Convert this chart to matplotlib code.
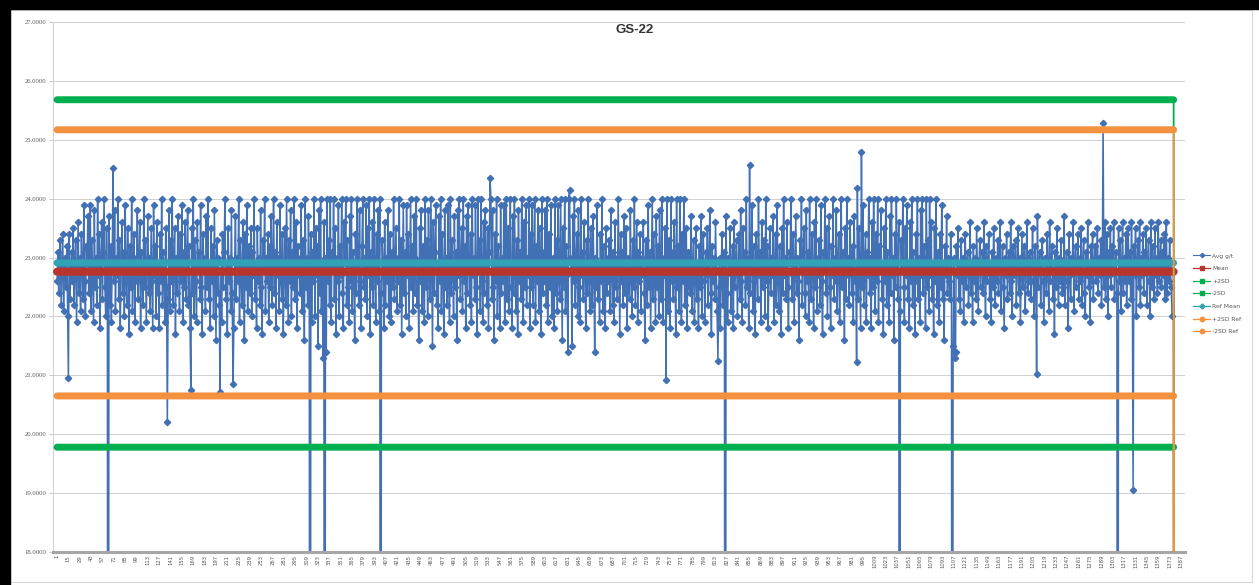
import matplotlib
matplotlib.use("Agg")
import matplotlib.pyplot as plt
from matplotlib.lines import Line2D
from matplotlib.patches import Rectangle
import numpy as np

# Avg g/t per sample (rows of 20 samples)
avg_gt = [
    22.6, 23.1, 22.4, 22.9, 23.3, 22.2, 22.8, 23.4, 22.1, 22.7, 23.0, 22.5, 23.2, 22.0, 22.9, 23.4, 22.3, 22.8, 23.1, 22.6,
    23.5, 22.2, 22.9, 23.3, 21.9, 22.7, 23.6, 22.4, 23.0, 22.1, 23.4, 22.8, 22.3, 23.9, 22.6, 22.0, 23.2, 22.9, 23.7, 22.4,
    22.8, 23.9, 22.1, 23.3, 22.6, 21.9, 23.8, 22.5, 23.0, 22.2, 24.0, 22.7, 23.4, 21.8, 22.9, 23.6, 22.3, 23.1, 24.0, 22.5,
    22.0, 23.5, 22.8, 22.4, 23.7, 22.2, 23.2, 21.9, 22.9, 23.4, 22.6, 23.8, 22.1, 23.0, 22.7, 24.0, 22.3, 23.3, 21.8, 22.9,
    23.6, 22.4, 23.1, 22.0, 23.9, 22.6, 22.2, 23.5, 22.8, 21.7, 23.2, 22.5, 24.0, 22.1, 22.9, 23.4, 21.9, 23.0, 22.6, 23.8,
    22.3, 22.9, 23.6, 21.8, 23.1, 22.7, 22.2, 24.0, 22.5, 23.3, 21.9, 22.8, 23.7, 22.4, 23.0, 22.1, 23.5, 22.6, 21.8, 23.9,
    22.7, 23.2, 22.0, 23.6, 22.4, 22.9, 21.8, 23.4, 22.6, 24.0, 22.2, 23.1, 22.8, 21.9, 23.5, 22.5, 23.0, 22.3, 23.8, 22.1,
    23.3, 22.6, 24.0, 22.2, 22.9, 23.5, 21.7, 23.0, 22.4, 23.7, 22.8, 22.1, 23.4, 22.6, 23.9, 21.9, 23.1, 22.5, 23.6, 22.3,
    22.9, 23.8, 22.2, 23.2, 21.8, 22.7, 23.5, 22.4, 24.0, 22.0, 23.3, 22.6, 21.9, 23.6, 22.8, 23.1, 22.3, 23.9, 22.5, 21.7,
    23.4, 22.8, 23.0, 22.1, 23.7, 22.5, 24.0, 22.3, 22.9, 21.8, 23.5, 22.6, 23.2, 22.0, 23.8, 22.7, 21.6, 23.3, 22.4, 23.0,
    22.2, 23.6, 22.8, 21.9, 23.4, 22.5, 23.1, 24.0, 22.3, 22.9, 21.7, 23.5, 22.6, 23.0, 22.1, 23.8, 22.4, 23.2, 21.8, 22.9,
    23.7, 22.3, 23.0, 22.6, 24.0, 21.9, 23.3, 22.7, 22.2, 23.6, 22.9, 21.6, 23.4, 22.5, 23.9, 22.1, 22.8, 23.2, 22.4, 23.5,
    22.0, 23.1, 22.7, 24.0, 22.3, 22.9, 21.8, 23.5, 22.6, 23.0, 22.2, 23.8, 22.5, 21.7, 23.3, 22.8, 24.0, 22.1, 23.0, 22.6,
    23.4, 21.9, 23.2, 22.5, 23.7, 22.2, 22.9, 24.0, 22.4, 23.1, 21.8, 23.6, 22.7, 23.0, 22.1, 23.9, 22.6, 22.3, 23.4, 21.7,
    22.8, 23.5, 22.2, 24.0, 22.9, 21.9, 23.3, 22.6, 23.8, 22.0, 23.1, 22.5, 24.0, 22.3, 22.8, 23.6, 21.8, 23.2, 22.7, 23.0,
    22.4, 23.9, 22.1, 23.3, 22.8, 21.6, 24.0, 22.5, 23.0, 22.2, 23.7, 22.9, 22.3, 23.4, 21.9, 23.1, 22.6, 24.0, 22.0, 23.5,
    22.7, 23.2, 21.5, 23.8, 22.4, 24.0, 22.1, 22.9, 21.3, 23.6, 22.5, 23.0, 21.4, 24.0, 22.6, 23.3, 22.2, 24.0, 21.9, 23.1,
    22.8, 24.0, 22.3, 23.5, 21.7, 23.0, 22.6, 23.9, 22.0, 23.2, 22.7, 24.0, 22.4, 21.8, 23.6, 22.9, 24.0, 22.2, 23.3, 22.5,
    21.9, 23.7, 22.6, 24.0, 22.1, 23.1, 22.8, 21.6, 23.4, 22.4, 24.0, 22.9, 22.2, 23.8, 22.6, 21.8, 23.2, 24.0, 22.5, 23.0,
    22.3, 23.9, 22.0, 23.5, 22.7, 24.0, 21.7, 23.1, 22.5, 23.6, 22.2, 24.0, 22.8, 21.9, 23.4, 22.6, 23.8, 22.1, 24.0, 22.7,
    22.4, 23.3, 22.9, 21.8, 23.6, 22.2, 23.0, 22.6, 23.8, 22.0, 22.8, 23.4, 21.9, 23.1, 22.5, 24.0, 22.3, 22.9, 23.5, 22.1,
    23.0, 22.6, 24.0, 22.2, 23.3, 21.7, 22.8, 23.9, 22.4, 23.1, 22.0, 23.9, 22.7, 23.4, 21.8, 22.9, 24.0, 22.5, 23.2, 22.1,
    23.7, 22.4, 23.0, 24.0, 22.2, 22.8, 21.6, 23.5, 22.6, 23.8, 22.1, 23.2, 22.9, 21.9, 24.0, 22.5, 23.3, 22.0, 23.8, 22.7,
    22.3, 24.0, 22.8, 21.5, 23.6, 22.4, 23.1, 23.9, 22.2, 22.9, 21.8, 23.7, 22.6, 24.0, 22.1, 23.4, 22.7, 21.7, 23.8, 22.5,
    23.0, 22.2, 23.9, 22.6, 21.9, 24.0, 22.4, 23.3, 22.8, 22.0, 23.7, 22.5, 23.1, 21.6, 23.8, 22.7, 24.0, 22.3, 22.9, 23.5,
    22.1, 24.0, 22.6, 23.2, 21.8, 23.7, 22.4, 23.9, 22.9, 22.2, 23.4, 21.9, 24.0, 22.7, 23.0, 22.3, 23.9, 22.5, 21.7, 24.0,
    22.8, 23.3, 22.1, 24.0, 22.6, 21.9, 23.6, 22.4, 23.8, 22.9, 22.2, 23.5, 21.8, 23.1, 22.7, 24.0, 22.3, 23.8, 22.5, 21.6,
    23.4, 22.6, 24.0, 22.0, 23.2, 22.8, 21.8, 23.9, 22.4, 23.0, 22.6, 23.9, 21.9, 22.7, 24.0, 22.3, 23.5, 22.1, 22.9, 24.0,
    22.5, 21.8, 23.7, 22.4, 24.0, 22.9, 22.1, 23.3, 21.7, 23.8, 22.6, 23.1, 22.3, 24.0, 22.8, 21.9, 23.6, 22.5, 23.9, 22.2,
    23.0, 22.7, 24.0, 21.8, 23.4, 22.5, 23.9, 22.2, 22.8, 24.0, 21.9, 23.2, 22.6, 23.8, 22.1, 23.5, 22.9, 21.7, 24.0, 22.4,
    23.1, 22.6, 23.8, 22.2, 24.0, 21.9, 22.8, 23.4, 22.5, 23.9, 22.0, 23.0, 22.7, 21.8, 24.0, 22.4, 23.3, 22.1, 23.9, 22.6,
    22.3, 24.0, 22.8, 21.6, 23.5, 22.5, 24.0, 22.1, 23.2, 22.7, 21.4, 24.0, 22.4, 23.0, 22.8, 21.5, 23.7, 22.6, 24.0, 22.2,
    22.9, 23.4, 22.0, 23.8, 22.5, 21.9, 24.0, 22.7, 23.1, 22.3, 23.6, 22.8, 21.8, 23.3, 22.4, 24.0, 22.6, 22.1, 23.5, 22.9,
    22.2, 23.7, 22.8, 21.4, 23.0, 22.5, 23.9, 22.3, 22.9, 21.9, 23.4, 22.6, 24.0, 22.1, 23.2, 22.7, 21.8, 23.5, 22.4, 23.0,
    22.6, 23.3, 22.1, 23.8, 22.7, 22.2, 23.1, 21.9, 23.6, 22.5, 23.0, 22.3, 24.0, 22.8, 21.7, 23.4, 22.6, 23.1, 22.2, 23.7,
    22.4, 22.9, 23.5, 21.8, 23.0, 22.6, 22.3, 23.8, 22.7, 22.0, 23.3, 22.5, 24.0, 22.2, 22.9, 23.6, 21.9, 23.1, 22.6, 23.4,
    22.1, 23.0, 22.7, 23.6, 22.4, 21.6, 23.3, 22.8, 22.2, 23.9, 22.5, 23.1, 21.8, 22.9, 24.0, 22.3, 23.4, 22.6, 21.9, 23.7,
    22.5, 23.2, 22.0, 23.8, 22.6, 22.3, 24.0, 21.9, 23.0, 22.7, 23.5, 22.4, 24.0, 22.1, 22.8, 23.3, 21.8, 24.0, 22.6, 23.1,
    22.3, 23.6, 22.8, 21.7, 24.0, 22.5, 23.2, 22.1, 24.0, 22.7, 21.9, 23.4, 22.6, 24.0, 22.2, 22.9, 23.5, 21.8, 23.1, 22.5,
    23.0, 22.4, 23.7, 22.1, 22.8, 23.3, 21.9, 22.6, 23.5, 22.3, 22.9, 21.8, 23.2, 22.5, 23.7, 22.0, 22.8, 23.4, 22.6, 21.9,
    23.1, 22.7, 23.5, 22.2, 22.9, 23.8, 22.4, 21.7, 23.2, 22.6, 23.0, 22.3, 23.6, 22.8, 22.1, 23.3, 22.5, 23.0, 21.8, 22.7,
    23.4, 22.2, 22.9, 23.1, 22.6, 23.7, 22.4, 21.9, 23.0, 22.8, 23.5, 22.1, 22.7, 23.2, 21.8, 23.6, 22.5, 22.9, 23.3, 22.0,
    22.7, 23.4, 22.3, 23.8, 22.6, 21.9, 23.5, 22.8, 23.1, 22.2, 24.0, 22.5, 23.0, 21.8, 23.6, 22.4, 22.9, 23.9, 22.1, 23.2,
    22.6, 21.7, 23.4, 22.9, 22.3, 24.0, 22.7, 23.1, 21.9, 23.6, 22.5, 22.8, 23.3, 22.0, 24.0, 22.6, 23.2, 21.8, 22.9, 23.5,
    22.4, 23.0, 22.7, 23.7, 21.9, 22.8, 23.4, 22.2, 23.9, 22.6, 22.1, 23.2, 22.8, 21.7, 23.5, 22.4, 24.0, 22.7, 23.0, 22.3,
    23.6, 22.5, 21.8, 23.1, 22.9, 24.0, 22.3, 22.7, 23.4, 21.9, 22.8, 23.7, 22.4, 23.0, 22.6, 21.6, 23.3, 22.8, 24.0, 22.2,
    22.9, 23.5, 22.4, 22.0, 23.8, 22.6, 23.1, 21.9, 24.0, 22.7, 22.3, 23.4, 22.8, 21.8, 23.6, 22.5, 24.0, 22.1, 23.0, 22.7,
    23.3, 22.2, 23.9, 22.6, 21.7, 23.1, 22.8, 24.0, 22.4, 23.5, 22.0, 22.9, 23.7, 22.5, 21.8, 23.2, 22.7, 24.0, 22.3, 23.0,
    22.6, 23.8, 22.1, 22.9, 23.4, 21.9, 22.7, 24.0, 22.5, 23.1, 22.8, 21.6, 23.5, 22.3, 24.0, 22.7, 23.0, 22.2, 23.6, 22.9,
    22.4, 23.2, 21.9, 23.7, 22.6, 22.8, 23.0, 24.0, 22.3, 23.5, 22.7, 21.8, 23.3, 22.5, 23.9, 22.2, 22.8, 23.4, 21.9, 23.1,
    22.7, 24.0, 22.4, 23.0, 21.8, 23.6, 22.5, 24.0, 22.9, 22.1, 23.4, 22.6, 24.0, 21.9, 23.2, 22.8, 23.8, 22.3, 22.9, 21.7,
    23.5, 22.6, 24.0, 22.2, 23.1, 22.8, 21.9, 23.7, 22.4, 24.0, 22.7, 23.0, 21.6, 23.4, 22.5, 24.0, 22.9, 22.3, 23.6, 22.7,
    22.1, 23.3, 22.8, 24.0, 22.5, 21.9, 23.5, 22.7, 23.9, 22.3, 22.9, 21.8, 23.6, 22.6, 24.0, 22.2, 23.1, 22.8, 21.7, 23.4,
    22.6, 24.0, 22.3, 23.0, 21.9, 23.8, 22.7, 24.0, 22.4, 23.2, 22.9, 21.8, 24.0, 22.5, 23.3, 22.1, 24.0, 22.7, 23.6, 22.3,
    22.9, 21.7, 23.5, 22.6, 24.0, 22.2, 23.1, 22.8, 21.9, 23.4, 22.5, 23.9, 22.3, 22.9, 21.6, 23.2, 22.7, 23.7, 22.4, 23.0,
    22.6, 22.3, 23.4, 22.8, 22.5, 21.5, 23.0, 22.6, 21.4, 23.2, 22.7, 23.5, 22.3, 22.9, 22.1, 23.3, 22.6, 23.0, 21.9, 22.8,
    23.4, 22.5, 22.9, 23.1, 22.2, 22.7, 23.6, 22.4, 22.9, 21.9, 23.2, 22.6, 23.0, 22.3, 23.5, 22.8, 22.1, 22.9, 23.3, 22.5,
    22.8, 23.1, 22.4, 23.6, 22.7, 22.0, 23.2, 22.6, 22.9, 23.4, 22.3, 22.8, 21.9, 23.1, 22.5, 23.5, 22.7, 22.2, 23.0, 22.6,
    23.3, 22.4, 22.9, 23.6, 22.1, 22.8, 23.2, 22.5, 21.8, 23.0, 22.7, 23.4, 22.3, 22.9, 23.1, 22.4, 23.6, 22.6, 22.0, 23.2,
    22.7, 22.9, 23.3, 22.2, 22.8, 23.5, 22.4, 23.0, 21.9, 22.7, 23.4, 22.5, 22.9, 23.2, 22.1, 22.8, 23.6, 22.4, 23.0, 22.6,
    23.1, 22.3, 22.8, 23.5, 22.6, 22.0, 23.2, 22.7, 22.4, 23.7, 22.5, 22.9, 23.1, 22.2, 22.8, 23.3, 22.6, 21.9, 23.0, 22.7,
    22.4, 23.4, 22.8, 22.1, 23.6, 22.6, 22.9, 23.2, 22.3, 22.8, 21.7, 23.1, 22.5, 23.5, 22.7, 22.2, 23.0, 22.6, 23.3, 22.4,
    22.9, 22.5, 23.7, 22.2, 22.8, 23.1, 22.6, 21.8, 23.4, 22.7, 22.3, 23.0, 22.8, 23.6, 22.1, 22.9, 23.2, 22.5, 22.8, 23.4,
    22.3, 23.0, 22.6, 23.5, 22.2, 22.9, 23.3, 22.4, 22.0, 23.1, 22.7, 23.6, 22.5, 22.8, 21.9, 23.2, 22.6, 23.4, 22.3, 22.9,
    23.2, 22.6, 22.9, 23.5, 22.4, 23.0, 22.7, 23.3, 22.2, 22.8, 23.1, 22.5, 23.6, 22.3, 22.9, 23.4, 22.0, 23.1, 22.7, 23.5,
    22.5, 23.2, 22.8, 23.6, 22.3, 22.9, 23.1, 22.4, 22.7, 23.5, 22.6, 23.3, 22.1, 22.8, 23.6, 22.4, 23.0, 22.6, 23.4, 22.2,
    22.9, 23.5, 22.6, 23.1, 22.3, 23.6, 22.8, 22.4, 23.2, 22.7, 23.5, 22.0, 22.9, 23.3, 22.5, 23.6, 22.2, 23.0, 22.7, 23.4,
    22.4, 23.1, 22.8, 23.5, 22.2, 22.9, 23.3, 22.6, 22.0, 23.6, 22.5, 23.2, 22.8, 22.3, 23.5, 22.7, 23.0, 22.4, 23.6, 22.6,
    22.9, 23.3, 22.5, 23.1, 22.7, 23.4, 22.3, 22.8, 23.6, 22.4, 23.0, 22.6, 23.3, 22.8, 22.5, 22.0,
]

# outliers: sample number -> value (0 = blank, drops off the axis)
spike_samples = [15, 64, 70, 137, 166, 202, 218, 313, 331, 400, 535, 633, 752, 816, 825,
                 855, 987, 988, 993, 1040, 1105, 1108, 1209, 1291, 1309, 1328]
spike_values = [20.96, 0.0, 24.52, 20.2, 20.75, 20.72, 20.86, 0.0, 0.0, 0.0, 24.35, 24.15, 20.92, 21.25, 0.0,
                24.58, 21.22, 24.18, 24.8, 0.0, 0.0, 21.3, 21.02, 25.28, 0.0, 19.05]

# control limits
mean_val = 22.76
plus_2sd = 25.68
minus_2sd = 19.78
ref_mean = 22.91
plus_2sd_ref = 25.17
minus_2sd_ref = 20.65
n_limit_rows = 1379  # last row of the limit columns is blank

y_ticks = [18, 19, 20, 21, 22, 23, 24, 25, 26, 27]
x_tick_labels = list(range(1, 1388, 14))

avg = np.array(avg_gt, dtype=float)
for s, v in zip(spike_samples, spike_values):
    if s <= len(avg):
        avg[s - 1] = v
x_avg = np.arange(1, len(avg) + 1)
x_lim = np.arange(1, n_limit_rows + 1)

W, H = 1259, 585
fig = plt.figure(figsize=(W / 100, H / 100), dpi=100)
fig.patch.set_facecolor("white")
ax = fig.add_axes([53 / W, 1 - 552 / H, (1185 - 53) / W, (552 - 22) / H])

blue = "#4170B5"
ax.plot(x_avg, avg, color=blue, lw=1.1, marker="D", ms=3.2, zorder=2)

limits = [
    ("Mean", mean_val, "#B8352C", 5.8, "s"),
    ("+2SD", plus_2sd, "#00B050", 5.0, "s"),
    ("-2SD", minus_2sd, "#00B050", 5.0, "s"),
    ("Ref Mean", ref_mean, "#31A3B5", 5.0, "P"),
    ("+2SD Ref", plus_2sd_ref, "#F4913F", 5.0, "o"),
    ("-2SD Ref", minus_2sd_ref, "#F4913F", 5.0, "o"),
]
for i, (name, level, col, lw, mk) in enumerate(limits):
    vals = np.full(n_limit_rows, level)
    vals[-1] = 0.0
    ax.plot(x_lim, vals, color=col, lw=1.3, zorder=3 + i)
    ax.plot(x_lim[:-1], vals[:-1], color=col, lw=lw, solid_capstyle="round", zorder=3 + i)

ax.set_ylim(18, 27)
ax.set_xlim(-4, 1392)
ax.set_yticks(y_ticks)
ax.set_yticklabels([f"{t:.4f}" for t in y_ticks], fontsize=4.8, color="#595959",
                   family="Liberation Serif")
ax.set_xticks(x_tick_labels)
ax.set_xticklabels([str(t) for t in x_tick_labels], rotation=90, fontsize=3.8,
                   color="#595959")
ax.tick_params(axis="y", length=3, width=0.6, color="#BFBFBF", pad=1.5)
ax.tick_params(axis="x", length=0, pad=2)
ax.grid(axis="y", color="#D0D0D0", lw=0.7)
ax.set_axisbelow(True)
for s in ["top", "right"]:
    ax.spines[s].set_visible(False)
ax.spines["left"].set_color("#D0D0D0")
ax.spines["left"].set_linewidth(0.7)
ax.spines["bottom"].set_color("#A6A6A6")
ax.spines["bottom"].set_linewidth(2.2)

fig.text(635 / W, 1 - 30 / H, "GS-22", ha="center", va="center", fontsize=9.5,
         fontweight="bold", family="Liberation Sans", color="#333333")

handles = [Line2D([], [], color=blue, lw=0.8, marker="D", ms=2.2)]
for name, level, col, lw, mk in limits:
    handles.append(Line2D([], [], color=col, lw=0.9, marker=mk, ms=3.2))
labels = ["Avg g/t"] + [l[0] for l in limits]
fig.legend(handles, labels, loc="upper left", bbox_to_anchor=(1188 / W, 1 - 248 / H),
           frameon=False, fontsize=4.3, handlelength=2.8, labelspacing=1.25,
           handletextpad=0.3, labelcolor="#595959")

# screenshot frame
fig.add_artist(Rectangle((0, 1 - 9 / H), 1, 9 / H, transform=fig.transFigure,
                         color="black", zorder=10))
fig.add_artist(Rectangle((0, 0), 10 / W, 1, transform=fig.transFigure,
                         color="black", zorder=10))
fig.add_artist(Rectangle((10 / W, 3 / H), (1252 - 10) / W, (575 - 3) / H,
                         transform=fig.transFigure, fill=False, ec="#D9D9D9", lw=0.8))

fig.savefig("out.png", dpi=100)
